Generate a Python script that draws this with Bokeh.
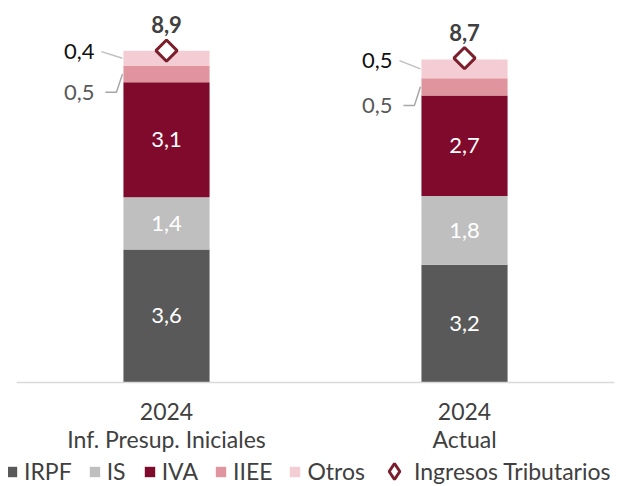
import numpy as np
from bokeh.plotting import figure
from bokeh.models import ColumnDataSource, Legend, LegendItem, Range1d
from bokeh.embed import file_html
from bokeh.resources import INLINE
from bokeh.core.properties import value

# ---- data ----
years = ["2024", "2024"]
categories = ["Inf. Presup. Iniciales", "Actual"]
series = ["IRPF", "IS", "IVA", "IIEE", "Otros"]
irpf = [3.57, 3.16]
is_ = [1.40, 1.84]
iva = [3.08, 2.70]
iiee = [0.44, 0.46]
otros = [0.41, 0.50]
total = [8.9, 8.7]
irpf_lbl = ["3,6", "3,2"]
is_lbl = ["1,4", "1,8"]
iva_lbl = ["3,1", "2,7"]
iiee_lbl = ["0,5", "0,5"]
otros_lbl = ["0,4", "0,5"]
total_lbl = ["8,9", "8,7"]

colors = ["#595959", "#BFBFBF", "#7F0A2B", "#E0949E", "#F3CDD3"]
DIAMOND = "#7B1F2C"
FONT = "Lato"

x = [0, 1]
BW = 0.289
PXX = 298.0   # px per x unit
PXY = 37.3    # px per y unit

p = figure(frame_width=611, frame_height=478, output_backend="svg", toolbar_location=None,
           x_range=Range1d(-0.5302, 1.5201), y_range=Range1d(-2.788, 10.03),
           min_border_left=8, min_border_right=0, min_border_top=8, min_border_bottom=0)
p.outline_line_color = None
p.background_fill_color = "white"
p.border_fill_color = "white"
p.grid.visible = False
p.axis.visible = False

vals = [irpf, is_, iva, iiee, otros]
src = ColumnDataSource(dict(x=x, IRPF=irpf, IS=is_, IVA=iva, IIEE=iiee, Otros=otros, total=total))
rs = p.vbar_stack(series, x="x", width=BW, color=colors, line_color=colors, line_width=0, source=src)

# baseline (category axis line)
p.segment(x0=[x[0] - 0.503], y0=[0], x1=[x[-1] + 0.503], y1=[0],
          line_color="#D9D9D9", line_width=1.5)

# category labels
p.text(x=x, y=[0, 0], text=years, text_color="#404040", text_font=value(FONT),
       text_font_size="23px", text_align="center", text_baseline="middle", y_offset=29)
p.text(x=x, y=[0, 0], text=categories, text_color="#404040", text_font=value(FONT),
       text_font_size="23px", text_align="center", text_baseline="middle", y_offset=56)

# inside labels
bottoms = np.zeros(2)
mids = []
tops = []
for v in vals:
    v = np.array(v)
    mids.append(bottoms + v / 2)
    tops.append(bottoms + v)
    bottoms = bottoms + v

for i, lbls in enumerate([irpf_lbl, is_lbl, iva_lbl]):
    p.text(x=x, y=list(mids[i]), text=lbls, text_color="white", text_font=value(FONT),
           text_font_size="22px", text_align="center", text_baseline="middle")

xl = np.array(x) - BW / 2
# Otros labels (outside, left)
p.text(x=list(xl), y=list(tops[4]), text=otros_lbl, text_color="#111111", text_font=value(FONT),
       text_font_size="22px", text_align="right", text_baseline="middle", x_offset=-29, y_offset=1)
# IIEE labels
p.text(x=list(xl), y=list(tops[2]), text=iiee_lbl, text_color="#595959", text_font=value(FONT),
       text_font_size="22px", text_align="right", text_baseline="middle", x_offset=-29, y_offset=10)

# leader lines
xs_o, ys_o, xs_i, ys_i = [], [], [], []
for k in range(2):
    xs_o.append([xl[k] - 22 / PXX, xl[k] - 1 / PXX])
    ys_o.append([tops[4][k] - 1 / PXY, mids[4][k]])
    xs_i.append([xl[k] - 18 / PXX, xl[k] - 7 / PXX, xl[k] - 1 / PXX])
    ys_i.append([tops[2][k] - 10 / PXY, tops[2][k] - 10 / PXY, mids[3][k]])
p.multi_line(xs_o, ys_o, line_color="#BFBFBF", line_width=1.5)
p.multi_line(xs_i, ys_i, line_color="#A6A6A6", line_width=1.5)

# legend proxy for the diamond marker (zero size, drawn beneath the real markers)
tot_leg = p.scatter(x="x", y="total", source=src, marker="diamond", size=0,
                    fill_color="white", line_color=DIAMOND, line_width=3)
# totals
tot = p.scatter(x="x", y="total", source=src, marker="square", angle=np.pi / 4, size=15,
                fill_color="white", line_color=DIAMOND, line_width=3)
p.text(x=x, y=total, text=total_lbl, text_color="#404040", text_font=value(FONT),
       text_font_size="22px", text_font_style="bold", text_align="center",
       text_baseline="middle", y_offset=-26)

items = [LegendItem(label=s, renderers=[r]) for s, r in zip(series, rs)]
legend = Legend(items=items, orientation="horizontal", location=(-3, 1),
                label_text_font=FONT, label_text_font_size="23px", label_text_color="#404040",
                glyph_width=13, glyph_height=13, label_standoff=6, spacing=16,
                padding=0, margin=0, border_line_color=None, background_fill_alpha=0)
p.add_layout(legend, "center")

legend2 = Legend(items=[LegendItem(label="Ingresos Tributarios", renderers=[tot_leg])],
                 orientation="horizontal", location=(366, -5),
                 label_text_font=FONT, label_text_font_size="23px", label_text_color="#404040",
                 glyph_width=40, glyph_height=40, label_standoff=-6, spacing=0,
                 padding=0, margin=0, border_line_color=None, background_fill_alpha=0)
p.add_layout(legend2, "center")

open("out.html", "w").write(file_html(p, INLINE))
